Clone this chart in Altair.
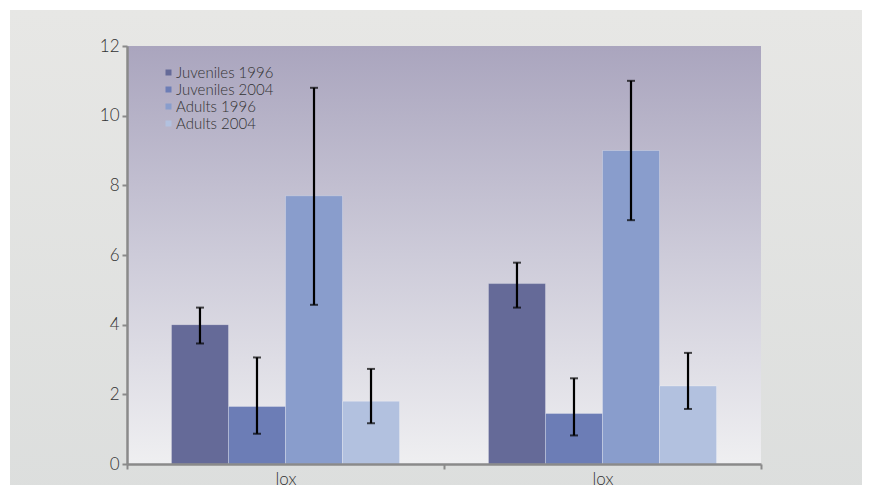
import altair as alt
import pandas as pd

groups = ["lox_a", "lox_b"]
group_labels = ["lox", "lox"]
series = ["Juveniles 1996", "Juveniles 2004", "Adults 1996", "Adults 2004"]
colors = ["#656a98", "#6c7db6", "#899dcc", "#b2c1df"]

values_a = [4.0, 1.65, 7.7, 1.8]
values_b = [5.18, 1.45, 9.0, 2.24]
err_low_a = [3.46, 0.87, 4.57, 1.17]
err_high_a = [4.49, 3.06, 10.8, 2.73]
err_low_b = [4.49, 0.82, 7.0, 1.58]
err_high_b = [5.78, 2.46, 11.0, 3.19]

rows = []
for g, vals, lo, hi in [(groups[0], values_a, err_low_a, err_high_a),
                        (groups[1], values_b, err_low_b, err_high_b)]:
    for s, v, l, h in zip(series, vals, lo, hi):
        rows.append({"group": g, "series": s, "value": v, "low": l, "high": h})
df = pd.DataFrame(rows)

W, H = 634, 418
PL, PT, PR, PB = 119, 38, 101, 40
FONT = "Lato"

label_expr = ("datum.value == '%s' ? '%s' : (datum.value == '%s' ? '%s' : '')"
              % (groups[0], group_labels[0], groups[1], group_labels[1]))

x_enc = alt.X("group:N", sort=groups, scale=alt.Scale(paddingInner=0, paddingOuter=0),
              axis=alt.Axis(title=None, labelExpr=label_expr, tickBand="extent", labelAngle=0,
                            domainColor="#8a8a8a", domainWidth=2.5, tickColor="#8a8a8a",
                            tickWidth=2, tickSize=5, labelPadding=2, labelFontSize=17,
                            labelColor="#333333", labelFont=FONT, labelFontWeight=300,
                            grid=False, zindex=1))
xo_enc = alt.XOffset("series:N", sort=series, scale=alt.Scale(paddingInner=0, paddingOuter=0.78))
y_scale = alt.Scale(domain=[0, 12], nice=False, zero=True)
y_enc = alt.Y("value:Q", scale=y_scale,
              axis=alt.Axis(title=None, values=[0, 2, 4, 6, 8, 10, 12], grid=False,
                            domainColor="#8a8a8a", domainWidth=2.5, tickColor="#8a8a8a",
                            tickWidth=2, tickSize=5, labelPadding=3, labelFontSize=17,
                            labelColor="#333333", labelFont=FONT, labelFontWeight=300,
                            zindex=1))

one = alt.Data(values=[{}])

page_bg = alt.Chart(one).mark_rect(
    color=alt.LinearGradient(gradient="linear", x1=0, x2=0, y1=0, y2=1,
                             stops=[alt.GradientStop(offset=0, color="#e7e7e5"),
                                    alt.GradientStop(offset=1, color="#dcdedd")])
).encode(x=alt.value(10 - 8 - PL), x2=alt.value(W + PR), y=alt.value(10 - 8 - PT), y2=alt.value(H + PB))

plot_bg = alt.Chart(one).mark_rect(
    color=alt.LinearGradient(gradient="linear", x1=0, x2=0, y1=0, y2=1,
                             stops=[alt.GradientStop(offset=0, color="#aaa5be"),
                                    alt.GradientStop(offset=0.5, color="#cdcbd9"),
                                    alt.GradientStop(offset=1, color="#efeff1")])
).encode(x=alt.value(0), x2=alt.value(W), y=alt.value(0), y2=alt.value(H))

base = alt.Chart(df)

bars = base.mark_bar(stroke="#ffffff", strokeOpacity=0.25, strokeWidth=1).encode(
    x=x_enc, xOffset=xo_enc, y=y_enc,
    color=alt.Color("series:N", sort=series,
                    scale=alt.Scale(domain=series, range=colors),
                    legend=alt.Legend(title=None, orient="none", legendX=34, legendY=19,
                                      symbolType="square", symbolSize=36, symbolStrokeWidth=0,
                                      labelFontSize=15, labelFont=FONT, labelColor="#333333",
                                      labelFontWeight=300, rowPadding=1, labelOffset=0,
                                      symbolOffset=0, padding=0)),
)

rules = base.mark_rule(color="#000000", strokeWidth=2.2).encode(
    x=alt.X("group:N", sort=groups), xOffset=alt.XOffset("series:N", sort=series),
    y=alt.Y("low:Q", scale=y_scale), y2="high:Q",
)
caps_hi = base.mark_tick(color="#000000", size=8, thickness=2).encode(
    x=alt.X("group:N", sort=groups), xOffset=alt.XOffset("series:N", sort=series),
    y=alt.Y("high:Q", scale=y_scale),
)
caps_lo = base.mark_tick(color="#000000", size=8, thickness=2).encode(
    x=alt.X("group:N", sort=groups), xOffset=alt.XOffset("series:N", sort=series),
    y=alt.Y("low:Q", scale=y_scale),
)

chart = alt.layer(page_bg, plot_bg, bars, rules, caps_hi, caps_lo).properties(
    width=W, height=H,
    autosize=alt.AutoSizeParams(type="none"),
    padding={"left": PL, "top": PT, "right": PR, "bottom": PB},
    background="#ffffff",
).configure_view(stroke=None)

chart.save("out.html", embed_options={"renderer": "svg", "actions": False})
